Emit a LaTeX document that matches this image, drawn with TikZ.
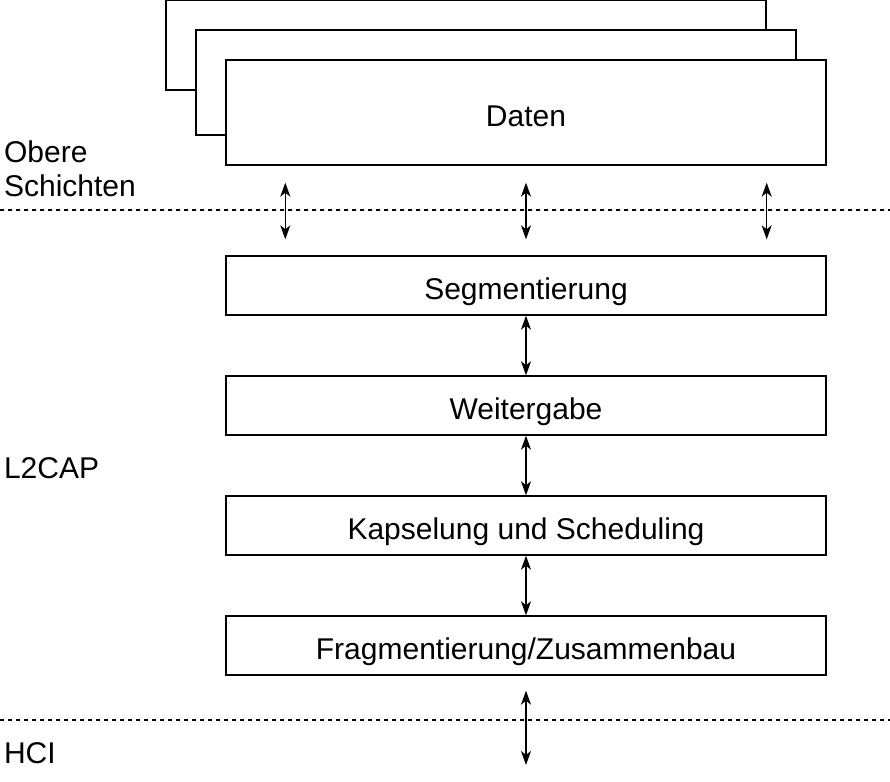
\documentclass[tikz,border=0pt]{standalone}
\usepackage{fontspec}
\setmainfont{Liberation Sans}
\usetikzlibrary{arrows.meta}

\begin{document}
\begin{tikzpicture}[x=0.5pt,y=-0.5pt]
    \tikzstyle{every node}+=[font=\fontsize{15}{17}\selectfont]
    \tikzstyle{layer}=[draw, line width=0.7pt, fill=white, minimum width=300pt, minimum height=29.5pt, inner sep=0pt, text height=13.5pt, text depth=0pt]
    \tikzstyle{stack}=[layer, minimum height=52.5pt]
    \tikzstyle{link}=[{Stealth[length=7pt,width=5pt,inset=2pt]}-{Stealth[length=7pt,width=5pt,inset=2pt]}, line width=0.6pt]
    \tikzstyle{border}=[dash pattern=on 2pt off 2pt, line width=0.55pt, draw=black]
    \useasboundingbox (0,0) rectangle (890,782);
    % Datenstapel
    \node [stack, minimum height=45pt] (daten1) at (466,45) {};
    \node [stack] (daten2) at (496,82.5) {};
    \node [stack] (daten) at (526,112.5) {Daten};
    % L2CAP-Schichten
    \node [layer] (seg) at (526,285.5) {Segmentierung};
    \node [layer] (weit) at (526,405.5) {Weitergabe};
    \node [layer] (kaps) at (526,525.5) {Kapselung und Scheduling};
    \node [layer] (frag) at (526,645.5) {Fragmentierung/Zusammenbau};
    % Grenzen
    \coordinate (oben l) at (0,210);
    \coordinate (oben r) at (890,210);
    \coordinate (hci l) at (0,720);
    \coordinate (hci r) at (890,720);
    \coordinate (hci) at (526,765);
    \draw [border] (oben l) -- (oben r);
    \draw [border] (hci l) -- (hci r);
    \node [anchor=west, align=left] (obere) at (-3,169) {Obere\\Schichten};
    \node [anchor=west] (l2cap) at (-3,468) {L2CAP};
    \node [anchor=west] (hcitext) at (-3,753) {HCI};
    % Pfeile
    \draw [link, shorten <=8.5pt, shorten >=8pt] ([xshift=30pt]daten.south west) -- ([xshift=30pt]daten.south west |- seg.north);
    \draw [link, shorten <=8.5pt, shorten >=8pt] (daten.south) -- (seg.north);
    \draw [link, shorten <=8.5pt, shorten >=8pt] ([xshift=-30pt]daten.south east) -- ([xshift=-30pt]daten.south east |- seg.north);
    \draw [link] (seg) -- (weit);
    \draw [link] (weit) -- (kaps);
    \draw [link] (kaps) -- (frag);
    \draw [link, shorten <=7.5pt] (frag.south) -- (hci);
\end{tikzpicture}
\end{document}
